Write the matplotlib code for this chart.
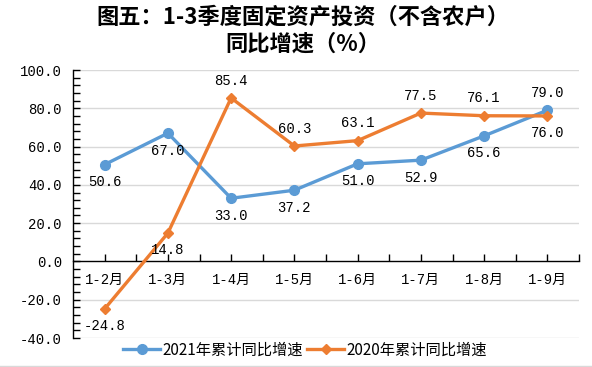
import matplotlib
matplotlib.use("Agg")
import matplotlib.pyplot as plt
from matplotlib.lines import Line2D
from matplotlib.ticker import MultipleLocator, FixedLocator

categories = ["1-2月", "1-3月", "1-4月", "1-5月", "1-6月", "1-7月", "1-8月", "1-9月"]
s2021 = [50.6, 67.0, 33.0, 37.2, 51.0, 52.9, 65.6, 79.0]
s2020 = [-24.8, 14.8, 85.4, 60.3, 63.1, 77.5, 76.1, 76.0]
name2021 = "2021年累计同比增速"
name2020 = "2020年累计同比增速"
title = "图五：1-3季度固定资产投资（不含农户）\n同比增速（%）"
yticks = [-40, -20, 0, 20, 40, 60, 80, 100]
# label placement: +1 above, -1 below
pos2021 = [-1, -1, -1, -1, -1, -1, -1, 1]
pos2020 = [-1, -1, 1, 1, 1, 1, 1, -1]

BLUE = "#5B9BD5"
ORANGE = "#ED7D31"
NUMFONT = ["Liberation Mono", "Noto Sans CJK SC"]
CJK = ["Noto Sans CJK SC", "DejaVu Sans"]
plt.rcParams["font.family"] = CJK

fig = plt.figure(figsize=(5.92, 3.67), dpi=100)
ax = fig.add_axes([73/592, 1-338/367, (579-73)/592, (338-70)/367])

for s in ["top", "right"]:
    ax.spines[s].set_visible(False)
ax.spines["bottom"].set_position(("data", 0))
ax.spines["bottom"].set_color("black")
ax.spines["left"].set_color("black")
ax.spines["bottom"].set_linewidth(1)
ax.spines["left"].set_linewidth(1)

x = list(range(len(categories)))
ax.plot(x, s2021, color=BLUE, lw=2.4, marker="o", ms=7, zorder=3, label=name2021)
ax.plot(x, s2020, color=ORANGE, lw=2.4, marker="D", ms=5, zorder=4, label=name2020)

def lab(vals, pos):
    for i, (v, p) in enumerate(zip(vals, pos)):
        ax.annotate(f"{v:.1f}", (i, v), xytext=(0, 12.5 * p), textcoords="offset points",
                    ha="center", va="center", fontsize=10, family=NUMFONT, zorder=5)

lab(s2021, pos2021)
lab(s2020, pos2020)

ax.set_xlim(-0.5, len(categories) - 0.5)
ax.set_ylim(-40, 100)
ax.set_yticks(yticks)
ax.set_yticklabels([f"{t:.1f}" for t in yticks], family=NUMFONT, fontsize=10)
ax.yaxis.set_minor_locator(MultipleLocator(4))
ax.set_xticks(x)
ax.set_xticklabels(categories, family=NUMFONT, fontsize=10)
ax.xaxis.set_minor_locator(FixedLocator([i + 0.5 for i in x]))

for t in yticks:
    if t != 0:
        ax.axhline(t, color="#D9D9D9", lw=1, zorder=0)

ax.tick_params(axis="y", which="both", direction="in", length=5, width=1, pad=8)
ax.tick_params(axis="x", which="both", direction="in", length=5, width=1, pad=8)

fig.suptitle(title, x=0.512, y=0.985, fontsize=16, fontweight="bold", family=CJK, linespacing=1.25)

leg = fig.legend(loc="center", bbox_to_anchor=(305/592, 1-350/367), ncol=2, frameon=False,
                 prop={"family": CJK, "size": 11}, handlelength=2.4, handletextpad=0.15,
                 columnspacing=0.3, borderpad=0)

fig.add_artist(Line2D([0, 1], [1.2/367, 1.2/367], color="#D9D9D9", lw=1))

fig.savefig("out.png", dpi=100)
